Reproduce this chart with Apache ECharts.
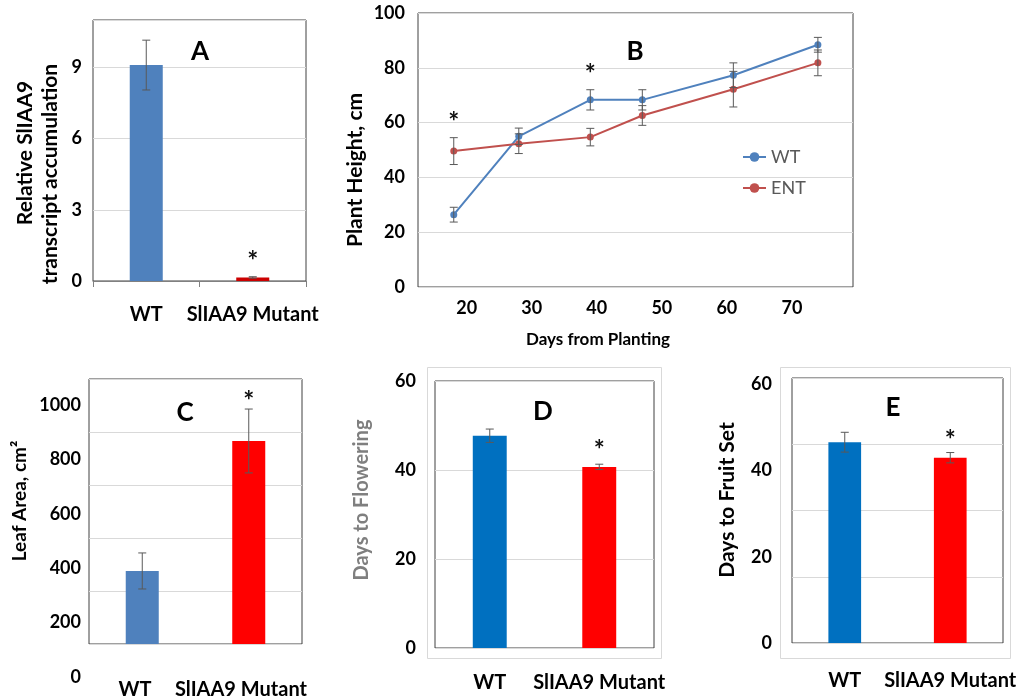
<!DOCTYPE html>
<html><head><meta charset="utf-8">
<script src="https://cdn.jsdelivr.net/npm/echarts@6/dist/echarts.min.js"></script>
<style>html,body{margin:0;padding:0;background:#fff}#c{width:1021px;height:700px}</style>
</head><body><div id="c"></div>
<script>
// ---------- data ----------
const barCategories = ['WT', 'SlIAA9 Mutant'];
// Panel A: relative SlIAA9 transcript accumulation
const aMean = [9.1, 0.15];
const aErr = [1.05, 0.03];
const aSig = [false, true];
// Panel B: plant height (cm) vs days from planting
const bDays = [18, 28, 39, 47, 61, 74];
const bWT = [26.4, 55.0, 68.3, 68.3, 77.3, 88.4];
const bWTErr = [2.7, 3.0, 3.7, 3.7, 4.5, 2.7];
const bENT = [49.6, 52.3, 54.7, 62.6, 72.2, 81.8];
const bENTErr = [4.9, 3.6, 3.2, 3.6, 6.5, 4.7];
const bSig = [true, false, true, false, false, false];
// Panel C: leaf area (cm2)
const cMean = [392, 868];
const cErr = [66, 117];
const cSig = [false, true];
// Panel D: days to flowering
const dMean = [47.7, 40.7];
const dErr = [1.5, 0.6];
const dSig = [false, true];
// Panel E: days to fruit set
const eMean = [46.6, 43.0];
const eErr = [2.3, 1.2];
const eSig = [false, true];

// ---------- helpers ----------
const FONT = 'Lato, "Open Sans", sans-serif';
const GRID_C = '#d9d9d9';
const FRAME = '#404040';
const ERR_C = '#595959';

function errData(mean, err, sig) {
  return mean.map((m, i) => [i, m, err[i], sig[i] ? 1 : 0]);
}
function errRender(capHalf, starGap) {
  return function (params, api) {
    const x = api.value(0), m = api.value(1), e = api.value(2), s = api.value(3);
    const hi = api.coord([x, m + e]), lo = api.coord([x, m - e]);
    const st = { stroke: ERR_C, lineWidth: 1 };
    const ch = [
      { type: 'line', shape: { x1: hi[0], y1: hi[1], x2: lo[0], y2: lo[1] }, style: st },
      { type: 'line', shape: { x1: hi[0] - capHalf, y1: hi[1], x2: hi[0] + capHalf, y2: hi[1] }, style: st },
      { type: 'line', shape: { x1: lo[0] - capHalf, y1: lo[1], x2: lo[0] + capHalf, y2: lo[1] }, style: st }
    ];
    if (s) ch.push(starEl(hi[0], hi[1] - starGap));
    return { type: 'group', children: ch };
  };
}
function starEl(x, y) {
  return { type: 'text', x: x, y: y, style: { text: '*', fontSize: 26, fontWeight: 'bold', fill: '#111', align: 'center', verticalAlign: 'middle', fontFamily: FONT } };
}
const tickLabel = { color: '#000', fontSize: 18, fontWeight: 'bold', fontFamily: FONT };
const catLabel = { color: '#000', fontSize: 20, fontWeight: 'bold', fontFamily: FONT };
function catAxis(gridIndex, margin, showLabels) {
  return {
    type: 'category', gridIndex, data: barCategories,
    axisLine: { show: false }, axisTick: { show: false },
    axisLabel: Object.assign({ show: showLabels, margin: margin, interval: 0 }, catLabel)
  };
}
function gridAxis(gridIndex, n) {
  return {
    type: 'value', gridIndex, min: 0, max: n, interval: 1, position: 'right',
    axisLine: { show: false }, axisTick: { show: false }, axisLabel: { show: false },
    splitLine: { show: true, lineStyle: { color: GRID_C } }
  };
}
function barColors(vals, colors) {
  return vals.map((v, i) => ({ value: v, itemStyle: { color: colors[i] } }));
}
function vText(text, x, y, size, color) {
  return { type: 'text', x, y, rotation: Math.PI / 2,
    style: { text, fontSize: size || 18, fontWeight: 'bold', fill: color || '#000', align: 'center', verticalAlign: 'middle', fontFamily: FONT } };
}
function hText(text, x, y, size) {
  return { type: 'text', x, y,
    style: { text, fontSize: size || 18, fontWeight: 'bold', fill: '#000', align: 'center', verticalAlign: 'middle', fontFamily: FONT } };
}

// Panel C: tick labels sit on a taller axis than the plotted frame
const cLabelMax = 1095;
const cLabelH = 299, cPlotH = 265;
const cPlotMin = cLabelMax * (cLabelH - cPlotH) / cLabelH;

const bStars = bDays.map((d, i) => [d, Math.max(bWT[i] + bWTErr[i], bENT[i] + bENTErr[i]), bSig[i] ? 1 : 0]);

const frame = { show: true, borderColor: FRAME, borderWidth: 1, backgroundColor: 'transparent' };

const option = {
  animation: false,
  backgroundColor: '#fff',
  textStyle: { fontFamily: FONT },
  grid: [
    Object.assign({ left: 93, top: 20, width: 213, height: 261 }, frame),   // A
    Object.assign({ left: 418, top: 13, width: 435, height: 274 }, frame),  // B
    { left: 82, top: 379, width: 212, height: cLabelH, show: false },        // C labels
    Object.assign({ left: 89, top: 379, width: 213, height: cPlotH }, frame), // C plot
    Object.assign({ left: 435, top: 381, width: 219, height: 267 }, frame), // D
    Object.assign({ left: 792, top: 378, width: 211, height: 265 }, frame)  // E
  ],
  legend: {
    data: ['WT', 'ENT'], orient: 'vertical', left: 737, top: 143, itemGap: 13,
    itemWidth: 23, itemHeight: 12,
    textStyle: { fontSize: 18, color: '#595959', fontFamily: FONT }
  },
  xAxis: [
    { type: 'category', gridIndex: 0, data: barCategories,
      axisLine: { show: true, lineStyle: { color: '#808080' } },
      axisTick: { show: true, length: 6, lineStyle: { color: '#808080' } },
      axisLabel: Object.assign({ margin: 24, interval: 0 }, catLabel) },
    { type: 'value', gridIndex: 1, min: 12.5, max: 79.4, splitNumber: 6,
      axisLine: { show: false }, axisTick: { show: false }, splitLine: { show: false },
      axisLabel: Object.assign({ margin: 12, showMinLabel: false, showMaxLabel: false,
        formatter: v => (v % 10 === 0 ? String(v) : '') }, tickLabel) },
    catAxis(2, 3, true),
    catAxis(3, 0, false),
    catAxis(4, 25, true),
    catAxis(5, 28, true)
  ],
  yAxis: [
    { type: 'value', gridIndex: 0, min: 0, max: 11, interval: 3,
      axisLine: { show: false }, axisTick: { show: false },
      splitLine: { show: true, lineStyle: { color: GRID_C } },
      axisLabel: Object.assign({ margin: 11, formatter: v => (v % 3 === 0 ? String(v) : '') }, tickLabel) },
    { type: 'value', gridIndex: 1, min: 0, max: 100, interval: 20,
      axisLine: { show: false }, axisTick: { show: false },
      splitLine: { show: true, lineStyle: { color: GRID_C } },
      axisLabel: Object.assign({ margin: 13 }, tickLabel) },
    { type: 'value', gridIndex: 2, min: 0, max: cLabelMax, interval: 200,
      axisLine: { show: false }, axisTick: { show: false }, splitLine: { show: false },
      axisLabel: Object.assign({ margin: 1, formatter: v => (v % 200 === 0 ? String(v) : '') }, tickLabel) },
    { type: 'value', gridIndex: 3, min: cPlotMin, max: cLabelMax, show: false },
    gridAxis(3, 5),
    { type: 'value', gridIndex: 4, min: 0, max: 60, interval: 20,
      axisLine: { show: false }, axisTick: { show: false },
      splitLine: { show: true, lineStyle: { color: GRID_C } },
      axisLabel: Object.assign({ margin: 19 }, tickLabel) },
    { type: 'value', gridIndex: 5, min: 0, max: 61.5, interval: 20,
      axisLine: { show: false }, axisTick: { show: false }, splitLine: { show: false },
      axisLabel: Object.assign({ margin: 20, formatter: v => (v % 20 === 0 ? String(v) : '') }, tickLabel) },
    gridAxis(5, 4)
  ],
  series: [
    // A
    { type: 'bar', xAxisIndex: 0, yAxisIndex: 0, barWidth: '31%',
      data: barColors(aMean, ['#4F81BD', '#CC0000']) },
    { type: 'custom', xAxisIndex: 0, yAxisIndex: 0, clip: false, renderItem: errRender(4, 15),
      data: errData(aMean, aErr, aSig), z: 5 },
    // B
    { name: 'WT', type: 'line', xAxisIndex: 1, yAxisIndex: 1, symbol: 'circle', symbolSize: 7,
      color: '#4F81BD', lineStyle: { width: 2 }, data: bDays.map((d, i) => [d, bWT[i]]) },
    { name: 'ENT', type: 'line', xAxisIndex: 1, yAxisIndex: 1, symbol: 'circle', symbolSize: 7,
      color: '#C0504D', lineStyle: { width: 2 }, data: bDays.map((d, i) => [d, bENT[i]]) },
    { type: 'custom', xAxisIndex: 1, yAxisIndex: 1, renderItem: errRender(4, 0), z: 5,
      data: bDays.map((d, i) => [d, bWT[i], bWTErr[i], 0]) },
    { type: 'custom', xAxisIndex: 1, yAxisIndex: 1, renderItem: errRender(4, 0), z: 5,
      data: bDays.map((d, i) => [d, bENT[i], bENTErr[i], 0]) },
    { type: 'custom', xAxisIndex: 1, yAxisIndex: 1, clip: false, z: 6,
      renderItem: function (params, api) {
        if (!api.value(2)) return null;
        const p = api.coord([api.value(0), api.value(1)]);
        return starEl(p[0], p[1] - 15);
      },
      data: bStars },
    // C
    { type: 'bar', xAxisIndex: 3, yAxisIndex: 3, barWidth: '31%', clip: true,
      data: barColors(cMean, ['#4F81BD', '#FF0000']) },
    { type: 'custom', xAxisIndex: 3, yAxisIndex: 3, clip: false, renderItem: errRender(4, 7),
      data: errData(cMean, cErr, cSig), z: 5 },
    // D
    { type: 'bar', xAxisIndex: 4, yAxisIndex: 5, barWidth: '31%',
      data: barColors(dMean, ['#0070C0', '#FF0000']) },
    { type: 'custom', xAxisIndex: 4, yAxisIndex: 5, clip: false, renderItem: errRender(4, 14),
      data: errData(dMean, dErr, dSig), z: 5 },
    // E
    { type: 'bar', xAxisIndex: 5, yAxisIndex: 6, barWidth: '31%',
      data: barColors(eMean, ['#0070C0', '#FF0000']) },
    { type: 'custom', xAxisIndex: 5, yAxisIndex: 6, clip: false, renderItem: errRender(4, 12),
      data: errData(eMean, eErr, eSig), z: 5 }
  ],
  graphic: [
    { type: 'rect', shape: { x: 427.5, y: 367.5, width: 234, height: 291 }, style: { fill: 'none', stroke: '#d9d9d9', lineWidth: 1 }, z: -1 },
    { type: 'rect', shape: { x: 780.5, y: 367.5, width: 230, height: 291 }, style: { fill: 'none', stroke: '#d9d9d9', lineWidth: 1 }, z: -1 },
    hText('A', 200, 52, 26), hText('B', 635, 52, 26), hText('C', 185, 413, 26),
    hText('D', 543, 412, 26), hText('E', 893, 408, 26),
    vText('Relative SlIAA9', 25, 153, 21), vText('transcript accumulation', 50, 174, 21),
    vText('Plant Height, cm', 355, 170, 21),
    hText('Days from Planting', 598, 340, 17),
    vText('Leaf Area, cm\u00B2', 20, 501, 19),
    vText('Days to Flowering', 362, 500, 20, '#7f7f7f'),
    vText('Days to Fruit Set', 727, 500, 21)
  ]
};

const chart = echarts.init(document.getElementById('c'), null, { renderer: 'canvas' });
chart.setOption(option);
</script>
</body></html>
